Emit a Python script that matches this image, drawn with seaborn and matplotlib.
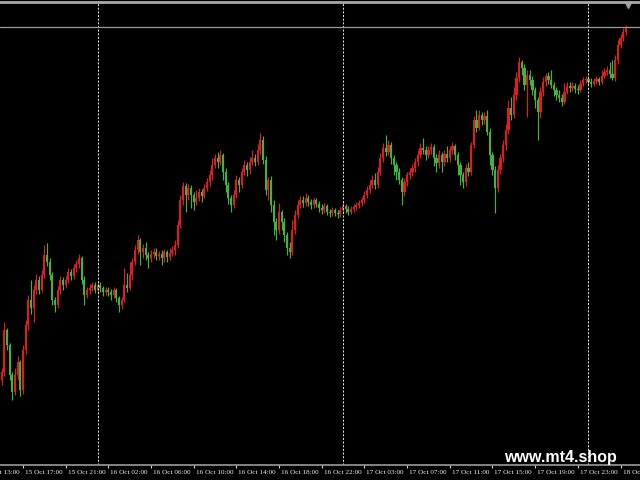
import matplotlib
matplotlib.use("Agg")
import matplotlib.pyplot as plt
import matplotlib.transforms as mtransforms
import numpy as np
import pandas as pd
import seaborn as sns

# M15 candles, bar index counted from 15 Oct 13:00
FIRST_BAR = 8
FIRST_OPEN = 100

closes = [
    108, 150, 135, 105, 88, 105, 118, 90, 130, 155,
    180, 172, 190, 200, 190, 205, 225, 218, 205, 180,
    175, 190, 200, 195, 200, 208, 204, 212, 216, 222,
    200, 185, 190, 192, 195, 190, 195, 192, 188, 190,
    188, 185, 190, 182, 175, 180, 195, 192, 205, 218,
    230, 240, 228, 232, 225, 222, 226, 228, 224, 226,
    222, 228, 223, 227, 230, 235, 255, 280, 294, 285,
    292, 285, 278, 282, 288, 284, 292, 298, 305, 315,
    322, 318, 325, 308, 295, 282, 275, 285, 300, 295,
    308, 315, 310, 318, 322, 318, 330, 340, 320, 290,
    300, 275, 258, 250, 268, 258, 245, 232, 228, 250,
    265, 275, 280, 277, 282, 278, 275, 280, 276, 272,
    270, 274, 268, 267, 270, 267, 266, 270, 274, 271,
    268, 271, 273, 275, 277, 280, 285, 290, 295, 300,
    295, 308, 322, 332, 328, 335, 322, 315, 308, 300,
    288, 298, 305, 308, 312, 318, 325, 332, 330, 325,
    330, 333, 322, 317, 325, 318, 326, 322, 330, 334,
    325, 315, 305, 298, 312, 308, 335, 360, 352, 365,
    360, 364, 348, 325, 310, 292, 310, 322, 335, 350,
    372, 365, 385, 402, 418, 412, 395, 405, 400, 390,
    380, 368, 388, 398, 404, 400, 395, 390, 385, 382,
    378, 388, 394, 392, 394, 391, 390, 396, 400, 401,
    398, 396, 399, 401, 398, 404, 408, 410, 406, 402,
    420, 435, 442, 448, 453,
]

highs = [
    112, 158, 152, 137, 108, 112, 124, 120, 135, 160,
    185, 200, 195, 206, 204, 210, 235, 237, 222, 208,
    183, 194, 204, 203, 204, 212, 211, 216, 220, 226,
    224, 204, 193, 196, 198, 198, 199, 198, 194, 193,
    193, 191, 193, 192, 184, 183, 212, 207, 218, 222,
    235, 245, 242, 236, 238, 228, 230, 232, 232, 229,
    230, 231, 230, 232, 234, 240, 260, 285, 298, 297,
    296, 295, 288, 290, 292, 291, 296, 302, 310, 322,
    326, 328, 330, 327, 312, 298, 285, 290, 305, 303,
    312, 320, 318, 323, 330, 326, 336, 347, 344, 324,
    303, 304, 280, 262, 277, 270, 262, 248, 238, 260,
    270, 280, 284, 284, 287, 285, 281, 283, 282, 279,
    276, 277, 276, 271, 273, 272, 270, 273, 278, 276,
    274, 274, 276, 278, 280, 283, 289, 294, 300, 305,
    307, 313, 327, 337, 345, 340, 338, 325, 318, 312,
    303, 302, 308, 312, 316, 322, 330, 337, 342, 334,
    334, 337, 336, 326, 330, 328, 330, 334, 334, 338,
    336, 328, 318, 308, 316, 318, 338, 364, 370, 370,
    368, 368, 370, 352, 328, 314, 315, 326, 340, 356,
    380, 383, 393, 408, 423, 420, 416, 410, 410, 404,
    393, 383, 393, 403, 407, 408, 410, 398, 393, 390,
    386, 397, 398, 398, 398, 397, 395, 400, 403, 404,
    404, 402, 402, 404, 403, 410, 412, 414, 418, 420,
    425, 440, 446, 452, 455,
]

lows = [
    95, 104, 130, 100, 80, 85, 100, 84, 86, 126,
    150, 166, 158, 186, 186, 188, 202, 214, 200, 175,
    168, 172, 186, 190, 192, 197, 200, 201, 208, 212,
    196, 175, 182, 186, 189, 187, 187, 188, 184, 185,
    184, 180, 182, 178, 168, 171, 178, 188, 190, 200,
    215, 226, 215, 222, 220, 212, 218, 222, 220, 220,
    215, 218, 218, 220, 224, 225, 232, 252, 275, 268,
    280, 272, 270, 275, 279, 278, 282, 289, 294, 300,
    312, 312, 315, 300, 288, 276, 268, 272, 282, 288,
    292, 305, 304, 306, 315, 314, 315, 326, 316, 285,
    280, 268, 245, 240, 246, 250, 238, 225, 222, 225,
    246, 262, 272, 273, 274, 274, 271, 272, 273, 268,
    266, 267, 265, 263, 264, 264, 262, 263, 267, 267,
    265, 266, 268, 270, 272, 274, 277, 282, 287, 292,
    291, 292, 305, 318, 324, 325, 316, 305, 300, 296,
    275, 284, 294, 301, 304, 308, 314, 322, 326, 320,
    322, 326, 314, 308, 312, 308, 314, 318, 318, 326,
    320, 305, 295, 292, 294, 304, 305, 332, 348, 350,
    355, 356, 345, 315, 305, 267, 288, 306, 318, 330,
    346, 360, 362, 380, 398, 405, 390, 363, 395, 385,
    372, 340, 362, 384, 394, 396, 392, 384, 380, 378,
    374, 376, 386, 388, 389, 387, 386, 388, 394, 397,
    395, 393, 394, 396, 395, 396, 402, 405, 402, 400,
    399, 416, 432, 439, 445,
]

tick_bars = [0, 16, 32, 48, 64, 80, 96, 112, 128, 144, 160, 176, 192, 208, 224, 240]
tick_labels = [
    "15 Oct 13:00", "15 Oct 17:00", "15 Oct 21:00", "16 Oct 02:00",
    "16 Oct 06:00", "16 Oct 10:00", "16 Oct 14:00", "16 Oct 18:00",
    "16 Oct 22:00", "17 Oct 03:00", "17 Oct 07:00", "17 Oct 11:00",
    "17 Oct 15:00", "17 Oct 19:00", "17 Oct 23:00", "18 Oct 03:00",
]
day_start_bars = [44, 136, 228]

UP_COLOR = "#e01c1c"
DOWN_COLOR = "#3fb43f"
GRAY = "#9a9a9a"


def build_frame():
    df = pd.DataFrame({
        "bar": np.arange(FIRST_BAR, FIRST_BAR + len(closes)),
        "close": closes,
        "high": highs,
        "low": lows,
    })
    df["open"] = [FIRST_OPEN] + closes[:-1]
    df["up"] = df["close"] >= df["open"]
    df["color"] = np.where(df["up"], UP_COLOR, DOWN_COLOR)
    df["body_low"] = df[["open", "close"]].min(axis=1)
    df["body_h"] = (df["close"] - df["open"]).abs().clip(lower=1)
    return df


def main():
    sns.set_theme(style="dark", rc={
        "figure.facecolor": "black",
        "axes.facecolor": "black",
        "axes.edgecolor": GRAY,
    })
    plt.rcParams["font.family"] = ["Liberation Serif", "DejaVu Serif"]

    df = build_frame()

    fig = plt.figure(figsize=(6.4, 4.8), dpi=100)
    ax = fig.add_axes([0, 15 / 480, 1, 462 / 480])
    ax.set_facecolor("black")

    ax.vlines(df["bar"], df["low"], df["high"], colors=df["color"], linewidth=0.85)
    ax.bar(df["bar"], df["body_h"], bottom=df["body_low"], width=0.8,
           color=df["color"], linewidth=0)

    for b in day_start_bars:
        ax.axvline(b, color="#dcdcdc", linewidth=0.75, linestyle=(0, (2, 1.5)))

    # current price line
    ax.axhline(closes[-1], color=GRAY, linewidth=0.9)

    ax.set_xlim(7.38, 247.31)
    ax.set_ylim(15, 477)
    ax.grid(False)
    for side in ["top", "left", "right"]:
        ax.spines[side].set_visible(False)
    ax.spines["bottom"].set_color(GRAY)
    ax.spines["bottom"].set_linewidth(1.2)

    visible = [b for b in tick_bars if 7.38 <= b <= 247.31]
    ax.set_xticks(visible)
    ax.set_xticklabels([])
    ax.tick_params(axis="x", direction="out", length=2.5, width=0.8, color="#d0d0d0",
                   bottom=True, pad=0)
    ax.set_yticks([])

    trans = mtransforms.blended_transform_factory(ax.transData, ax.transAxes)
    trans = mtransforms.offset_copy(trans, fig=fig, x=2, y=-7, units="dots")
    for b, lab in zip(tick_bars, tick_labels):
        ax.text(b, 0, lab, transform=trans, ha="left", va="center",
                fontsize=5.2, color="#eeeeee", clip_on=False)

    # window top border and shift marker
    fig.add_artist(plt.Line2D([0, 1], [1 - 2 / 480, 1 - 2 / 480], transform=fig.transFigure,
                              color="#a8a8a8", linewidth=2))
    ax.plot([628 / 640 * (247.31 - 7.38) + 7.38], [1 - 2 / 462], marker="v", markersize=4,
            color="#a0a0a0", transform=mtransforms.blended_transform_factory(ax.transData, ax.transAxes),
            clip_on=False)

    fig.text(504 / 640, 18 / 480, "www.mt4.shop", color="white", fontsize=11.5,
             fontweight="bold", family=["Liberation Sans", "DejaVu Sans"], va="baseline")

    fig.savefig("out.png", dpi=100, facecolor="black")


if __name__ == "__main__":
    main()
